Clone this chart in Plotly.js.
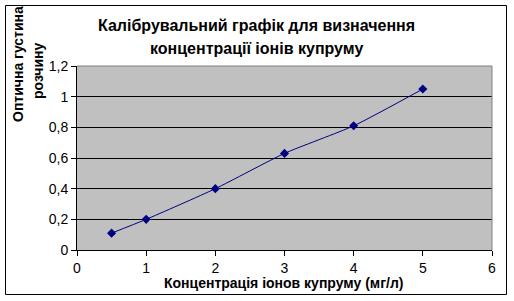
<!DOCTYPE html>
<html>
<head>
<meta charset="utf-8">
<script src="https://cdn.plot.ly/plotly-3.0.1.min.js"></script>
<style>
html,body{margin:0;padding:0;background:#fff;}
#chart{width:514px;height:301px;}
</style>
</head>
<body>
<div id="chart"></div>
<script>
var concentration = [0.5, 1, 2, 3, 4, 5];
var opticalDensity = [0.11, 0.2, 0.4, 0.63, 0.81, 1.05];
var xTicks = [0, 1, 2, 3, 4, 5, 6];
var yTicks = [0, 0.2, 0.4, 0.6, 0.8, 1, 1.2];
var titleLines = ["Калібрувальний графік для визначення", "концентрації іонів купруму"];
var yTitleLines = ["Оптична густина", "розчину"];
var xTitle = "Концентрація іонов купруму (мг/л)";

var FONT = "Arial, 'Liberation Sans', sans-serif";
var L = 77, R = 492, T = 66, B = 250, W = 514, H = 301;
var pw = R - L, ph = B - T;
function px(x){ return (x - L) / pw; }
function py(y){ return (B - y) / ph; }

var trace = {
  x: concentration,
  y: opticalDensity,
  type: 'scatter',
  mode: 'lines+markers',
  line: {color: '#000080', width: 1, shape: 'spline', smoothing: 0.6},
  marker: {symbol: 'diamond', size: 7, color: '#000080'},
  hoverinfo: 'none'
};

var layout = {
  width: W, height: H,
  margin: {l: L, r: W - R, t: T, b: H - B, pad: 0},
  paper_bgcolor: '#ffffff',
  plot_bgcolor: '#c0c0c0',
  separators: ', ',
  showlegend: false,
  font: {family: FONT, size: 14, color: '#000'},
  xaxis: {
    range: [0, 6], tickvals: xTicks, showgrid: false, zeroline: false,
    showline: true, linecolor: '#000', linewidth: 1,
    ticks: 'outside', ticklen: 5, tickcolor: '#000', tickwidth: 1,
    tickfont: {family: FONT, size: 14, color: '#000'}, fixedrange: true
  },
  yaxis: {
    range: [0, 1.2], tickvals: yTicks, showgrid: true, gridcolor: '#000', gridwidth: 1,
    zeroline: false, showline: true, linecolor: '#000', linewidth: 1,
    ticks: 'outside', ticklen: 5, tickcolor: '#000', tickwidth: 1,
    tickfont: {family: FONT, size: 14, color: '#000'}, fixedrange: true
  },
  shapes: [
    {type: 'line', xref: 'paper', yref: 'paper', x0: 0, x1: 1, y0: 1, y1: 1, line: {color: '#808080', width: 1}},
    {type: 'line', xref: 'paper', yref: 'paper', x0: 1, x1: 1, y0: 0, y1: 1, line: {color: '#808080', width: 1}},
    {type: 'rect', xref: 'paper', yref: 'paper', x0: px(5.5), x1: px(506.5), y0: py(294.5), y1: py(5.5), line: {color: '#000', width: 1}, fillcolor: 'rgba(0,0,0,0)'}
  ],
  annotations: [
    {text: '<b>' + titleLines[0] + '</b>', xref: 'paper', yref: 'paper', x: px(256), y: py(25), xanchor: 'center', yanchor: 'middle', showarrow: false, font: {family: FONT, size: 16, color: '#000'}},
    {text: '<b>' + titleLines[1] + '</b>', xref: 'paper', yref: 'paper', x: px(256), y: py(48), xanchor: 'center', yanchor: 'middle', showarrow: false, font: {family: FONT, size: 16, color: '#000'}},
    {text: '<b>' + yTitleLines[0] + '</b>', xref: 'paper', yref: 'paper', x: px(17.5), y: py(63.5), xanchor: 'center', yanchor: 'middle', textangle: -90, showarrow: false, font: {family: FONT, size: 14, color: '#000'}},
    {text: '<b>' + yTitleLines[1] + '</b>', xref: 'paper', yref: 'paper', x: px(37.5), y: py(70.5), xanchor: 'center', yanchor: 'middle', textangle: -90, showarrow: false, font: {family: FONT, size: 14, color: '#000'}},
    {text: '<b>' + xTitle + '</b>', xref: 'paper', yref: 'paper', x: px(283), y: py(283), xanchor: 'center', yanchor: 'middle', showarrow: false, font: {family: FONT, size: 14, color: '#000'}}
  ]
};

Plotly.newPlot('chart', [trace], layout, {displayModeBar: false, staticPlot: true});
</script>
</body>
</html>
